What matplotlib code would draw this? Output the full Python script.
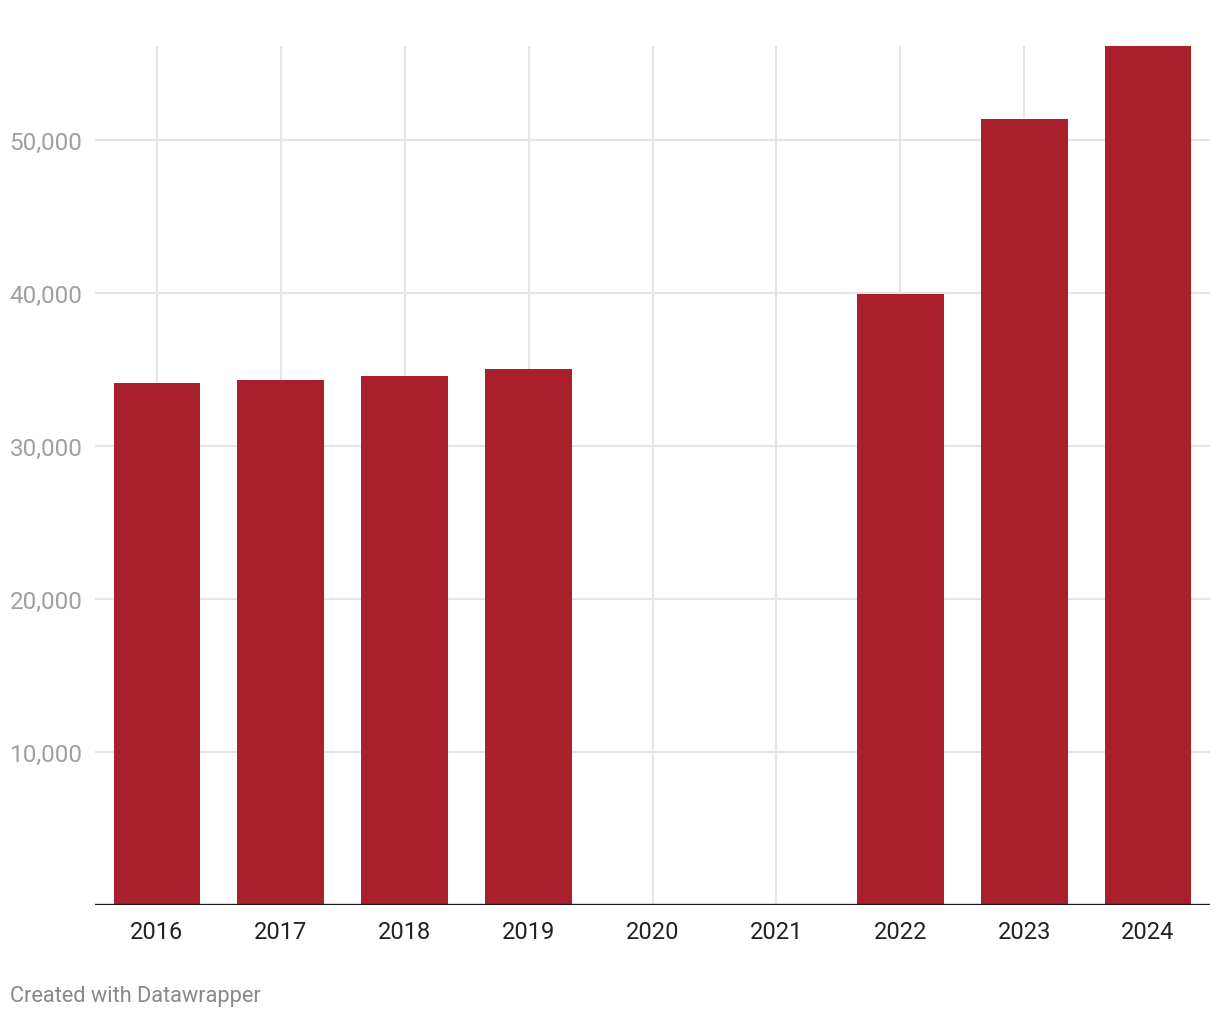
import matplotlib
matplotlib.use('Agg')
import matplotlib.pyplot as plt

# values
years = ['2016', '2017', '2018', '2019', '2020', '2021', '2022', '2023', '2024']
values = [34100, 34300, 34550, 35030, 0, 0, 39930, 51370, 56150]
y_ticks = [10000, 20000, 30000, 40000, 50000]
y_labels = ['10,000', '20,000', '30,000', '40,000', '50,000']

plt.rcParams['font.family'] = ['Roboto', 'DejaVu Sans']

fig = plt.figure(figsize=(12.2, 10.2), dpi=100)
ax = fig.add_axes([95 / 1220, 114 / 1020, 1115 / 1220, 859 / 1020])

x = list(range(len(years)))
ax.bar(x, values, width=0.70, color='#aa1f2c', zorder=3)

ax.set_xlim(-0.5, len(years) - 0.5)
ax.set_ylim(0, max(values))

# grid: horizontal at y ticks, vertical at each category
for yt in y_ticks:
    ax.axhline(yt, color='#e5e5e5', linewidth=1.5, zorder=1)
for xi in x:
    ax.axvline(xi, color='#e5e5e5', linewidth=1.5, zorder=1)
ax.axhline(0, color='#1a1a1a', linewidth=2.4, zorder=4)

ax.set_xticks(x)
ax.set_xticklabels(years, fontsize=17, color='#222222')
ax.set_yticks(y_ticks)
ax.set_yticklabels(y_labels, fontsize=17.5, color='#a0a0a0')
ax.tick_params(axis='x', length=0, pad=11)
ax.tick_params(axis='y', length=0, pad=9)

for s in ax.spines.values():
    s.set_visible(False)

fig.text(10 / 1220, 1 - 997 / 1020, 'Created with Datawrapper', fontsize=15.7,
         color='#888888', ha='left', va='center')

plt.savefig('out.png', dpi=100)
plt.close()
